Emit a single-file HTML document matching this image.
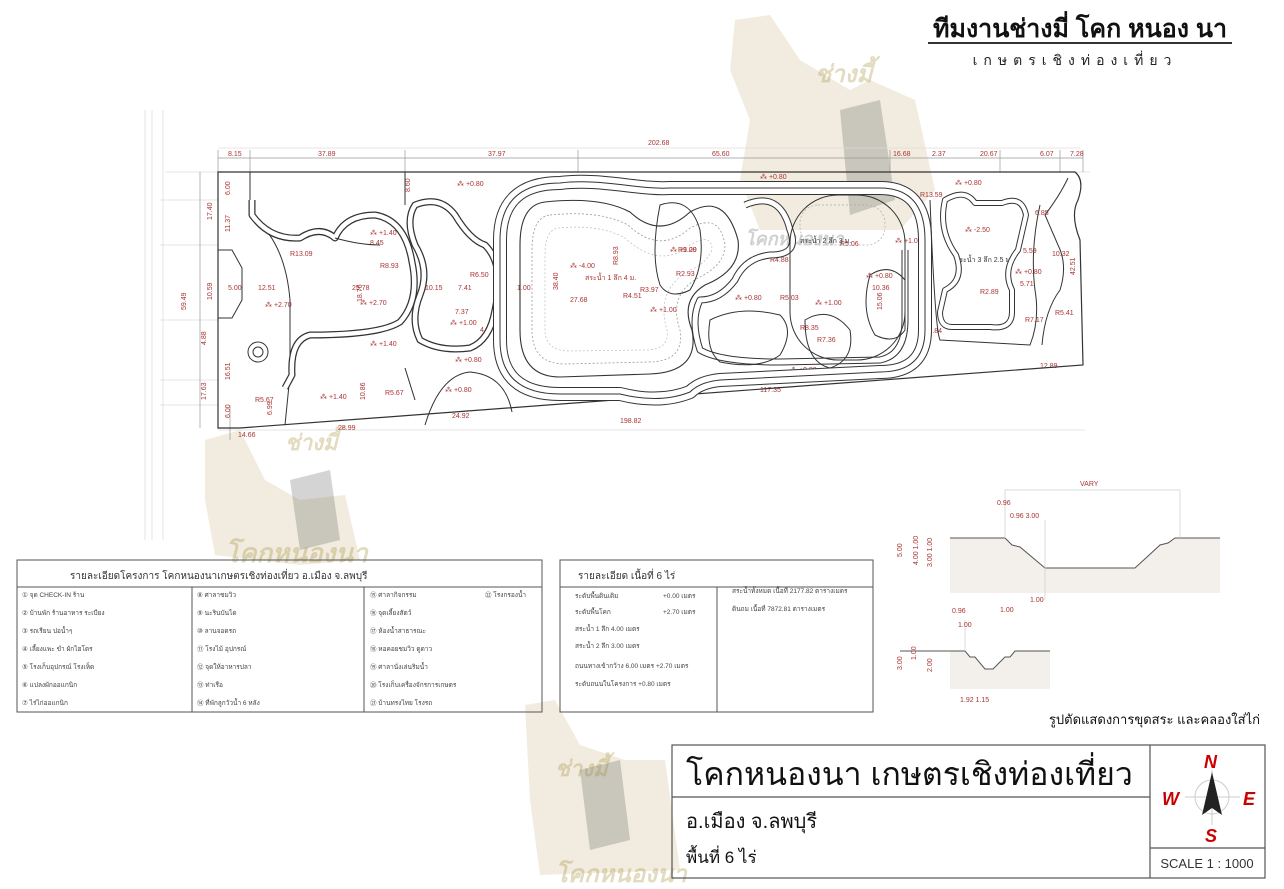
<!DOCTYPE html>
<html><head><meta charset="utf-8">
<style>
body{margin:0;background:#fff;}
svg{display:block;font-family:"Liberation Sans",sans-serif;}
.r{fill:#a33;font-size:7px;}
</style></head><body>
<svg width="1284" height="889" viewBox="0 0 1284 889" xmlns="http://www.w3.org/2000/svg">
<rect width="1284" height="889" fill="#fff"/>
<!-- watermarks -->
<g opacity="0.2" fill="#b8a060">
<path d="M735,20 L770,15 L800,60 L850,90 L870,80 L915,100 L935,190 L900,230 L760,230 L740,180 L750,120 L730,70Z"/>
<path d="M205,440 L240,430 L265,480 L300,500 L345,495 L360,560 L300,565 L215,555 L205,500Z"/>
<path d="M525,705 L555,700 L580,745 L625,760 L665,760 L680,870 L540,875 L530,800Z"/>
</g>
<g opacity="0.25" fill="#555">
<path d="M840,110 L880,100 L895,200 L850,215Z"/>
<path d="M290,480 L330,470 L340,540 L300,550Z"/>
<path d="M580,770 L620,760 L630,840 L590,850Z"/>
</g>
<g fill="#a08a30" opacity="0.3" font-weight="bold" font-style="italic">
<text x="815" y="82" font-size="24">ช่างมี้</text>
<text x="285" y="450" font-size="22">ช่างมี้</text>
<text x="555" y="776" font-size="22">ช่างมี้</text>
<text x="225" y="562" font-size="26">โคกหนองนา</text>
<text x="555" y="882" font-size="24">โคกหนองนา</text>
<text x="745" y="245" font-size="18" fill="#666">โคกหนองนา</text>
</g>

<!-- header -->
<text x="1080" y="37" text-anchor="middle" font-size="25" font-weight="bold" fill="#111">ทีมงานช่างมี่ โคก หนอง นา</text>
<line x1="928" y1="43" x2="1232" y2="43" stroke="#333" stroke-width="2"/>
<text x="1075" y="65" text-anchor="middle" font-size="14" fill="#222" letter-spacing="6">เกษตรเชิงท่องเที่ยว</text>

<!-- guide lines -->
<g stroke="#ddd" stroke-width="0.8">
<line x1="145" y1="110" x2="145" y2="540"/><line x1="152" y1="110" x2="152" y2="540"/>
<line x1="163" y1="110" x2="163" y2="540"/>
<line x1="160" y1="200" x2="218" y2="200"/><line x1="160" y1="245" x2="218" y2="245"/>
<line x1="160" y1="320" x2="218" y2="320"/><line x1="160" y1="380" x2="218" y2="380"/>
<line x1="160" y1="405" x2="218" y2="405"/>
<line x1="165" y1="172" x2="1090" y2="172"/>
<line x1="218" y1="148" x2="1080" y2="148"/>
<line x1="218" y1="430" x2="1085" y2="430"/>
</g>
<g stroke="#999" stroke-width="0.7">
<line x1="218" y1="158" x2="1083" y2="158"/>
<line x1="218" y1="150" x2="218" y2="172"/><line x1="250" y1="150" x2="250" y2="172"/>
<line x1="405" y1="150" x2="405" y2="172"/><line x1="578" y1="150" x2="578" y2="172"/>
<line x1="890" y1="150" x2="890" y2="172"/><line x1="1000" y1="150" x2="1000" y2="172"/>
<line x1="1060" y1="150" x2="1060" y2="172"/><line x1="1083" y1="150" x2="1083" y2="172"/>
<line x1="200" y1="172" x2="200" y2="428"/><line x1="230" y1="405" x2="230" y2="440"/>
</g>
<g class="r">
<text x="228" y="156">8.15</text><text x="318" y="156">37.89</text><text x="488" y="156">37.97</text>
<text x="648" y="145">202.68</text><text x="712" y="156">65.60</text><text x="893" y="156">16.68</text>
<text x="932" y="156">2.37</text><text x="980" y="156">20.67</text><text x="1040" y="156">6.07</text><text x="1070" y="156">7.28</text>
<text x="238" y="437">14.66</text><text x="338" y="430">28.99</text><text x="452" y="418">24.92</text>
<text x="620" y="423">198.82</text><text x="760" y="392">117.35</text><text x="1040" y="368">12.89</text>
<text x="228" y="290">5.00</text><text x="258" y="290">12.51</text><text x="352" y="290">25.78</text>
<text x="425" y="290">10.15</text><text x="458" y="290">7.41</text><text x="493" y="290">3.30</text><text x="517" y="290">1.00</text>
<text x="570" y="302">27.68</text><text x="872" y="290">10.36</text><text x="1052" y="256">10.32</text>
<text x="1035" y="215">6.85</text><text x="1023" y="253">5.59</text><text x="1020" y="286">5.71</text><text x="1055" y="315">R5.41</text>
<text x="1025" y="322">R7.17</text><text x="980" y="294">R2.89</text><text x="920" y="197">R13.59</text>
<text x="290" y="256">R13.09</text><text x="370" y="245">8.45</text><text x="380" y="268">R8.93</text>
<text x="470" y="277">R6.50</text><text x="455" y="314">7.37</text><text x="480" y="332">4.87</text>
<text x="623" y="298">R4.51</text><text x="678" y="252">R9.09</text><text x="676" y="276">R2.93</text>
<text x="640" y="292">R3.97</text><text x="780" y="300">R5.03</text><text x="800" y="330">R8.35</text><text x="817" y="342">R7.36</text>
<text x="770" y="262">R4.88</text><text x="840" y="246">R5.06</text><text x="920" y="333">R11.84</text>
<text x="730" y="189">R14.23</text><text x="585" y="280">สระน้ำ 1 ลึก 4 ม.</text>
<text x="800" y="243" fill="#333">สระน้ำ 2 ลึก 3 ม.</text><text x="955" y="262" fill="#333">สระน้ำ 3 ลึก 2.5 ม.</text>
<text x="265" y="307">⁂ +2.70</text><text x="360" y="305">⁂ +2.70</text><text x="370" y="235">⁂ +1.40</text>
<text x="450" y="325">⁂ +1.00</text><text x="370" y="346">⁂ +1.40</text><text x="455" y="362">⁂ +0.80</text>
<text x="320" y="399">⁂ +1.40</text><text x="445" y="392">⁂ +0.80</text><text x="457" y="186">⁂ +0.80</text>
<text x="670" y="252">⁂ +1.20</text><text x="650" y="312">⁂ +1.00</text><text x="735" y="300">⁂ +0.80</text>
<text x="815" y="305">⁂ +1.00</text><text x="866" y="278">⁂ +0.80</text><text x="760" y="179">⁂ +0.80</text>
<text x="895" y="243">⁂ +1.00</text><text x="955" y="185">⁂ +0.80</text><text x="965" y="232">⁂ -2.50</text>
<text x="1015" y="274">⁂ +0.80</text><text x="790" y="372">⁂ +0.80</text><text x="570" y="268">⁂ -4.00</text>
<text x="255" y="402">R5.67</text><text x="385" y="395">R5.67</text>
</g>
<g class="r" font-size="6.5">
<text transform="translate(186,310) rotate(-90)">59.49</text>
<text transform="translate(212,300) rotate(-90)">10.59</text>
<text transform="translate(212,220) rotate(-90)">17.40</text>
<text transform="translate(230,195) rotate(-90)">6.00</text>
<text transform="translate(230,232) rotate(-90)">11.37</text>
<text transform="translate(206,345) rotate(-90)">4.88</text>
<text transform="translate(206,400) rotate(-90)">17.63</text>
<text transform="translate(230,380) rotate(-90)">16.51</text>
<text transform="translate(230,418) rotate(-90)">6.00</text>
<text transform="translate(272,415) rotate(-90)">6.99</text>
<text transform="translate(558,290) rotate(-90)">38.40</text>
<text transform="translate(618,265) rotate(-90)">R8.93</text>
<text transform="translate(882,310) rotate(-90)">15.06</text>
<text transform="translate(1075,275) rotate(-90)">42.51</text>
<text transform="translate(362,302) rotate(-90)">18.76</text>
<text transform="translate(410,192) rotate(-90)">8.60</text>
<text transform="translate(365,400) rotate(-90)">10.86</text>
</g>

<!-- plot outline -->
<path d="M218,172 L1075,172 Q1085,180 1078,200 Q1070,215 1080,240 L1083,365 L240,428 L218,428 Z" fill="none" stroke="#333" stroke-width="1.2"/>
<path d="M218,250 L232,250 L242,268 L242,300 L232,318 L218,318" fill="none" stroke="#333" stroke-width="1"/>
<circle cx="258" cy="352" r="10" fill="none" stroke="#333"/><circle cx="258" cy="352" r="5" fill="none" stroke="#333"/>
<path d="M405,172 L405,205" stroke="#333" fill="none"/>
<path d="M250,172 L250,215" stroke="#333" fill="none"/>
<path d="M290,375 L285,425" stroke="#333" fill="none"/>
<path d="M250,215 Q285,240 290,300 L290,375" stroke="#333" fill="none"/>
<path d="M425,425 Q440,375 470,372 Q505,375 512,412" fill="none" stroke="#333"/>
<path d="M405,368 L415,400" fill="none" stroke="#333"/>
<path d="M1042,345 Q1045,310 1060,290 Q1068,265 1058,245 L1045,215 Q1060,195 1068,178" fill="none" stroke="#333"/>

<g fill="none" stroke-linejoin="round">
<path d="M252,200 L252,215 Q270,240 300,238 Q320,225 335,238 Q345,215 375,215 Q405,220 412,262 Q420,300 400,322 Q380,335 310,335 Q290,340 292,375 L285,388" stroke="#333" stroke-width="7"/>
<path d="M252,200 L252,215 Q270,240 300,238 Q320,225 335,238 Q345,215 375,215 Q405,220 412,262 Q420,300 400,322 Q380,335 310,335 Q290,340 292,375 L285,388" stroke="#fff" stroke-width="4.5"/>
<path d="M335,238 Q360,245 380,245" stroke="#333" stroke-width="1"/>
<path d="M415,205 Q440,195 455,215 Q470,240 485,245 Q505,265 495,310 Q490,340 470,348 Q440,352 420,340 Q410,320 420,295 Q430,270 415,245 Q405,220 415,205Z" stroke="#333" stroke-width="7"/>
<path d="M415,205 Q440,195 455,215 Q470,240 485,245 Q505,265 495,310 Q490,340 470,348 Q440,352 420,340 Q410,320 420,295 Q430,270 415,245 Q405,220 415,205Z" stroke="#fff" stroke-width="4.5"/>

<path d="M560,183 C600,178 640,190 670,188 L880,188 Q925,188 925,240 L925,330 Q925,372 880,372 L720,380 Q700,382 690,392 Q660,404 620,394 L560,394 Q500,394 500,340 L500,240 Q500,183 560,183 Z" stroke="#333" stroke-width="14"/>
<path d="M560,183 C600,178 640,190 670,188 L880,188 Q925,188 925,240 L925,330 Q925,372 880,372 L720,380 Q700,382 690,392 Q660,404 620,394 L560,394 Q500,394 500,340 L500,240 Q500,183 560,183 Z" stroke="#fff" stroke-width="12"/>
<path d="M560,183 C600,178 640,190 670,188 L880,188 Q925,188 925,240 L925,330 Q925,372 880,372 L720,380 Q700,382 690,392 Q660,404 620,394 L560,394 Q500,394 500,340 L500,240 Q500,183 560,183 Z" stroke="#333" stroke-width="1"/>

<path d="M545,202 Q600,196 630,212 Q660,240 690,212 Q725,192 738,240 Q742,270 705,285 Q680,300 692,330 Q700,372 650,374 L560,377 Q520,377 520,330 L520,245 Q520,205 545,202Z" stroke="#333" stroke-width="1.1"/>
<path d="M550,215 Q600,210 628,225 Q660,255 690,228 Q720,212 725,245 Q725,265 698,278 Q668,295 680,330 Q685,362 648,362 L565,364 Q532,364 532,330 L532,250 Q532,217 550,215Z" stroke="#999" stroke-width="0.8" stroke-dasharray="2,2"/>
<path d="M558,228 Q600,224 625,238 Q660,270 690,245 Q712,232 712,250 Q705,265 690,270 Q655,290 667,330 Q670,350 645,350 L570,351 Q545,351 545,330 L545,255 Q545,230 558,228Z" stroke="#bbb" stroke-width="0.7" stroke-dasharray="2,2"/>

<path d="M745,205 Q780,190 790,230 Q800,255 770,255 Q745,258 735,280 Q720,300 700,300 Q690,320 700,350 Q720,362 780,362 L880,360 Q905,355 905,320 L905,250" stroke="#333" stroke-width="7"/>
<path d="M745,205 Q780,190 790,230 Q800,255 770,255 Q745,258 735,280 Q720,300 700,300 Q690,320 700,350 Q720,362 780,362 L880,360 Q905,355 905,320 L905,250" stroke="#fff" stroke-width="5"/>

<rect x="790" y="195" width="115" height="165" rx="48" stroke="#333" stroke-width="1"/>
<rect x="800" y="205" width="85" height="40" rx="18" stroke="#aaa" stroke-width="0.7" stroke-dasharray="2,2"/>
<path d="M660,205 Q690,195 700,230 Q705,265 690,290 Q670,300 660,285 Q650,255 660,205Z" stroke="#333" stroke-width="1"/>
<path d="M710,320 Q740,305 780,315 Q795,330 780,355 Q760,370 720,362 Q705,350 710,320Z" stroke="#333" stroke-width="1"/>
<path d="M805,320 Q830,305 850,330 Q855,360 830,368 Q805,362 805,320Z" stroke="#333" stroke-width="1"/>
<path d="M870,275 Q890,262 905,280 L905,330 Q895,345 875,335 Q860,310 870,275Z" stroke="#333" stroke-width="1"/>

<path d="M945,200 Q965,188 975,203 L1002,203 Q1022,195 1026,215 L1018,250 Q1002,270 1012,290 L1012,312 Q1012,330 990,327 L952,327 Q940,327 940,312 L945,290 Q965,280 956,255 Q938,230 945,200Z" stroke="#333" stroke-width="6"/>
<path d="M945,200 Q965,188 975,203 L1002,203 Q1022,195 1026,215 L1018,250 Q1002,270 1012,290 L1012,312 Q1012,330 990,327 L952,327 Q940,327 940,312 L945,290 Q965,280 956,255 Q938,230 945,200Z" stroke="#fff" stroke-width="4"/>
<path d="M930,200 Q935,330 940,340 L1030,345 Q1040,320 1035,290 Q1030,250 1040,205" stroke="#333" stroke-width="1"/>
</g>

<g fill="none" stroke="#555" stroke-width="1">
<rect x="17" y="560" width="525" height="152"/>
<line x1="17" y1="587" x2="542" y2="587"/>
<line x1="192" y1="587" x2="192" y2="712"/><line x1="364" y1="587" x2="364" y2="712"/>
<rect x="560" y="560" width="313" height="152"/>
<line x1="560" y1="587" x2="873" y2="587"/>
<line x1="717" y1="587" x2="717" y2="712"/>
</g>
<g font-size="10" fill="#333">
<text x="70" y="579">รายละเอียดโครงการ โคกหนองนาเกษตรเชิงท่องเที่ยว อ.เมือง จ.ลพบุรี</text>
<text x="578" y="579">รายละเอียด เนื้อที่ 6 ไร่</text>
</g>
<g font-size="6.5" fill="#444">
<text x="22" y="597">① จุด CHECK-IN ร้าน</text>
<text x="22" y="615">② บ้านพัก ร้านอาหาร ระเบียง</text>
<text x="22" y="633">③ รถเรียน ปอน้ำๆ</text>
<text x="22" y="651">④ เลี้ยงแพะ ขำ ผักไฮโดร</text>
<text x="22" y="669">⑤ โรงเก็บอุปกรณ์ โรงเห็ด</text>
<text x="22" y="687">⑥ แปลงผักออแกนิก</text>
<text x="22" y="705">⑦ ไร่ไก่ออแกนิก</text>
<text x="197" y="597">⑧ ศาลาชมวิว</text>
<text x="197" y="615">⑨ นะรินบันได</text>
<text x="197" y="633">⑩ ลานจอดรถ</text>
<text x="197" y="651">⑪ โรงไม้ อุปกรณ์</text>
<text x="197" y="669">⑫ จุดให้อาหารปลา</text>
<text x="197" y="687">⑬ ท่าเรือ</text>
<text x="197" y="705">⑭ ที่พักลูกวัวน้ำ 6 หลัง</text>
<text x="370" y="597">⑮ ศาลากิจกรรม</text>
<text x="370" y="615">⑯ จุดเลี้ยงสัตว์</text>
<text x="370" y="633">⑰ ห้องน้ำสาธารณะ</text>
<text x="370" y="651">⑱ หอคอยชมวิว ดูดาว</text>
<text x="370" y="669">⑲ ศาลานั่งเล่นริมน้ำ</text>
<text x="370" y="687">⑳ โรงเก็บเครื่องจักรการเกษตร</text>
<text x="370" y="705">㉑ บ้านทรงไทย โรงรถ</text>
<text x="485" y="597">㉒ โรงกรองน้ำ</text>
<text x="575" y="598">ระดับพื้นดินเดิม</text><text x="663" y="598">+0.00 เมตร</text>
<text x="575" y="614">ระดับพื้นโคก</text><text x="663" y="614">+2.70 เมตร</text>
<text x="575" y="631">สระน้ำ 1 ลึก 4.00 เมตร</text>
<text x="575" y="648">สระน้ำ 2 ลึก 3.00 เมตร</text>
<text x="575" y="668">ถนนทางเข้ากว้าง 6.00 เมตร  +2.70 เมตร</text>
<text x="575" y="686">ระดับถนนในโครงการ +0.80 เมตร</text>
<text x="732" y="593">สระน้ำทั้งหมด เนื้อที่ 2177.82 ตารางเมตร</text>
<text x="732" y="611">ดินถม เนื้อที่ 7872.81 ตารางเมตร</text>
</g>

<rect x="950" y="538" width="270" height="55" fill="#f3f0ec"/>
<path d="M1045,568 L1135,568 L1160,545 L1168,543 L1175,538 L1220,538 L1220,530 L950,530 L950,538 L1005,538 L1012,545 L1020,547 Z" fill="#fff"/>
<path d="M950,538 L1005,538 L1012,545 L1020,547 L1045,568 L1135,568 L1160,545 L1168,543 L1175,538 L1220,538" fill="none" stroke="#555" stroke-width="1"/>
<rect x="950" y="651" width="100" height="38" fill="#f3f0ec"/>
<path d="M950,651 L965,651 L970,657 L975,657 L985,669 L993,669 L1005,657 L1010,657 L1015,651 L1050,651 L1050,645 L950,645Z" fill="#fff"/>
<path d="M900,651 L965,651 L970,657 L975,657 L985,669 L993,669 L1005,657 L1010,657 L1015,651 L1050,651" fill="none" stroke="#555"/>
<g stroke="#ccc" stroke-width="0.7">
<line x1="1005" y1="490" x2="1005" y2="538"/><line x1="1180" y1="490" x2="1180" y2="538"/>
<line x1="1005" y1="490" x2="1180" y2="490"/>
<line x1="1045" y1="520" x2="1045" y2="600"/><line x1="965" y1="620" x2="965" y2="651"/>
</g>
<g class="r" font-size="8">
<text x="1080" y="486">VARY</text>
<text x="997" y="505">0.96</text><text x="1010" y="518">0.96 3.00</text>
<text x="1030" y="602">1.00</text><text x="1000" y="612">1.00</text>
<text x="952" y="613">0.96</text><text x="958" y="627">1.00</text>
<text x="960" y="702">1.92 1.15</text>
<text transform="translate(902,557) rotate(-90)">5.00</text>
<text transform="translate(918,565) rotate(-90)">4.00 1.00</text>
<text transform="translate(932,567) rotate(-90)">3.00 1.00</text>
<text transform="translate(902,670) rotate(-90)">3.00</text>
<text transform="translate(916,660) rotate(-90)">1.00</text>
<text transform="translate(932,672) rotate(-90)">2.00</text>
</g>
<text x="1260" y="724" text-anchor="end" font-size="13" fill="#111">รูปตัดแสดงการขุดสระ และคลองใส่ไก่</text>

<g fill="none" stroke="#555" stroke-width="1.2">
<rect x="672" y="745" width="593" height="133"/>
<line x1="672" y1="797" x2="1150" y2="797"/>
<line x1="1150" y1="745" x2="1150" y2="878"/>
<line x1="1150" y1="848" x2="1265" y2="848"/>
</g>
<text x="686" y="785" font-size="32" fill="#111">โคกหนองนา  เกษตรเชิงท่องเที่ยว</text>
<text x="686" y="828" font-size="20" fill="#111">อ.เมือง จ.ลพบุรี</text>
<text x="686" y="863" font-size="17" fill="#111">พื้นที่ 6 ไร่</text>
<circle cx="1212" cy="797" r="17" fill="none" stroke="#ccc"/>
<line x1="1185" y1="797" x2="1240" y2="797" stroke="#ccc"/>
<line x1="1212" y1="770" x2="1212" y2="825" stroke="#ccc"/>
<path d="M1212,772 L1222,815 L1212,808 L1202,815Z" fill="#222"/>
<g fill="#c00" font-weight="bold" font-style="italic" font-size="18">
<text x="1204" y="768">N</text><text x="1162" y="805">W</text><text x="1243" y="805">E</text><text x="1205" y="842">S</text>
</g>
<text x="1207" y="868" text-anchor="middle" font-size="13" fill="#333">SCALE 1 : 1000</text>
</svg>
</body></html>
